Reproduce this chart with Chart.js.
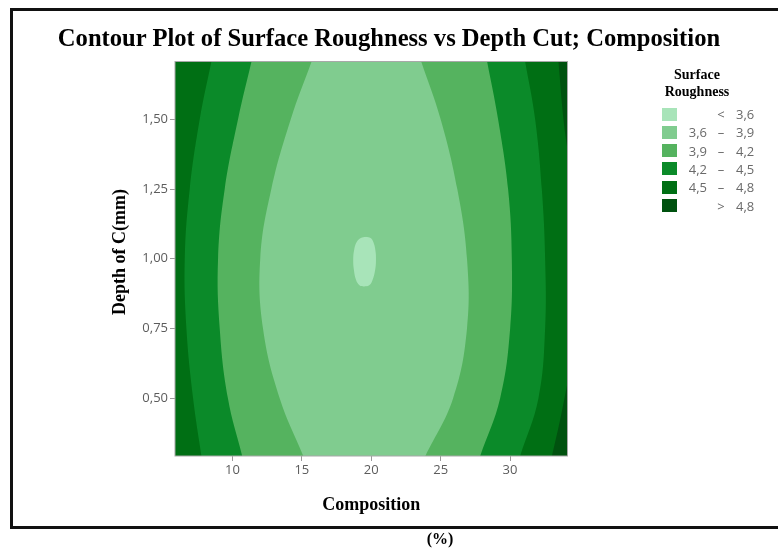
<!DOCTYPE html>
<html>
<head>
<meta charset="utf-8">
<script src="https://cdn.jsdelivr.net/npm/chart.js@4.4.1/dist/chart.umd.min.js"></script>
<style>
  html, body { margin: 0; padding: 0; background: #fff; }
  #wrap { position: relative; width: 778px; height: 549px; overflow: hidden; }
  #frame { position: absolute; left: 10px; top: 8px; width: 820px; height: 515px; border: 3px solid #111; border-right: none; }
  #chart { position: absolute; left: 0; top: 0; }
  #title { position: absolute; left: 0; top: 23px; width: 778px; text-align: center;
           font: bold 24.6px 'Liberation Serif'; line-height: 30px; color: #000; white-space: nowrap; }
  #unit { position: absolute; left: 410px; top: 530px; width: 60px; text-align: center;
          font: bold 16px 'Liberation Serif'; line-height: 18px; color: #000; }
  #legendTitle { position: absolute; left: 647px; top: 66px; width: 100px; text-align: center;
                 font: bold 14px 'Liberation Serif'; line-height: 17px; color: #000; }
  .sw { position: absolute; left: 662px; width: 15px; height: 13px; }
  .lg { position: absolute; font: 13px 'Open Sans'; line-height: 16px; color: #6a6a6a; white-space: nowrap; }
</style>
</head>
<body>
<div id="wrap">
  <div id="frame"></div>
  <canvas id="chart" width="778" height="549"></canvas>
  <div id="title">Contour Plot of Surface Roughness vs Depth Cut; Composition</div>
  <div id="legendTitle">Surface<br>Roughness</div>
  <div id="unit">(%)</div>
  <div id="legend"></div>
</div>
<script>
// axis ranges and ticks
const compMin = 5.858, compMax = 34.142;
const depthMin = 0.293, depthMax = 1.707;
const compTicks = [10, 15, 20, 25, 30];
const depthTicks = [0.50, 0.75, 1.00, 1.25, 1.50];

// contour levels and band colours (lowest band first)
const levels = [3.6, 3.9, 4.2, 4.5, 4.8];
const levelColors = ['#a8e4b9', '#80cc8f', '#55b35f', '#0b8a29', '#006f14', '#00520f'];

// contour lines: composition value on each side at each depth
const depthRows = [0.293, 0.5, 0.75, 1.0, 1.25, 1.5, 1.707];
const left39  = [15.1, 13.4, 12.2, 12.0, 12.8, 14.2, 15.7];
const right39 = [23.9, 25.9, 26.9, 26.9, 26.2, 25.0, 23.6];
const left42  = [10.7, 9.67, 9.08, 8.96, 9.44, 10.40, 11.37];
const right42 = [27.85, 29.29, 30.01, 30.13, 29.86, 29.14, 28.35];
const left45  = [7.76, 7.16, 6.68, 6.56, 6.92, 7.64, 8.48];
const right45 = [30.73, 32.05, 32.53, 32.53, 32.29, 31.81, 31.09];

// small island below 3.6
const depth36 = [0.900, 0.905, 0.925, 0.96, 0.995, 1.03, 1.06, 1.074, 1.079];
const left36  = [19.47, 19.15, 18.9, 18.75, 18.70, 18.76, 18.95, 19.25, 19.62];
const right36 = [19.47, 19.85, 20.1, 20.28, 20.34, 20.3, 20.15, 19.95, 19.62];

// 4.8 line in the right corners
const depth48Top = [1.39, 1.5, 1.707];
const right48Top = [34.142, 33.85, 33.49];
const depth48Bottom = [0.293, 0.42, 0.555];
const right48Bottom = [33.02, 33.6, 34.142];

function pts(xs, ys) {
    return ys.map((y, i) => ({ x: xs[i], y: y }));
}

function curve(xs, ys, color, fill) {
    return {
        data: pts(xs, ys),
        backgroundColor: color,
        borderColor: 'rgba(0,0,0,0)',
        borderWidth: 0,
        pointRadius: 0,
        pointHoverRadius: 0,
        tension: 0.4,
        fill: fill
    };
}

// first dataset is drawn on top, so innermost band first
const datasets = [
    curve(left36, depth36, levelColors[0], '+1'),
    curve(right36, depth36, levelColors[0], false),
    curve(left39, depthRows, levelColors[1], '+1'),
    curve(right39, depthRows, levelColors[1], false),
    curve(left42, depthRows, levelColors[2], '+1'),
    curve(right42, depthRows, levelColors[2], false),
    curve(left45, depthRows, levelColors[3], '+1'),
    curve(right45, depthRows, levelColors[3], false),
    curve(right48Top, depth48Top, levelColors[5], { value: compMax + 1 }),
    curve(right48Bottom, depth48Bottom, levelColors[5], { value: compMax + 1 })
];

// background band (4.5 - 4.8) and plot frame
const areaPlugin = {
    id: 'areaPlugin',
    beforeDatasetsDraw(chart) {
        const a = chart.chartArea, ctx = chart.ctx;
        ctx.save();
        ctx.fillStyle = levelColors[4];
        ctx.fillRect(a.left, a.top, a.right - a.left, a.bottom - a.top);
        ctx.restore();
    },
    afterDatasetsDraw(chart) {
        const a = chart.chartArea, ctx = chart.ctx;
        ctx.save();
        ctx.strokeStyle = '#a8a8a8';
        ctx.lineWidth = 1;
        ctx.strokeRect(a.left, a.top, a.right - a.left, a.bottom - a.top);
        ctx.restore();
    }
};

const tickFont = { family: 'Open Sans', size: 13 };
const titleFont = { family: 'Liberation Serif', size: 18, weight: 'bold' };

new Chart(document.getElementById('chart'), {
    type: 'line',
    data: { datasets: datasets },
    options: {
        responsive: false,
        animation: false,
        indexAxis: 'y',
        layout: { padding: { left: 100, right: 210.5, top: 61.5, bottom: 31 } },
        plugins: {
            legend: { display: false },
            tooltip: { enabled: false },
            title: { display: false }
        },
        scales: {
            x: {
                type: 'linear',
                position: 'bottom',
                min: compMin,
                max: compMax,
                afterBuildTicks: s => { s.ticks = compTicks.map(v => ({ value: v })); },
                afterFit: s => { s.height = 62; },
                ticks: { font: tickFont, color: '#5c5c5c', padding: 1, callback: v => String(v) },
                grid: { drawOnChartArea: false, drawTicks: true, tickLength: 5, color: '#9a9a9a' },
                border: { display: false },
                title: { display: true, text: 'Composition', font: titleFont, color: '#000', padding: { top: 0, bottom: 2.2 } }
            },
            y: {
                type: 'linear',
                position: 'left',
                min: depthMin,
                max: depthMax,
                reverse: false,
                afterBuildTicks: s => { s.ticks = depthTicks.map(v => ({ value: v })); },
                afterFit: s => { s.width = 75; },
                ticks: { font: tickFont, color: '#5c5c5c', padding: 2, callback: v => v.toFixed(2).replace('.', ',') },
                grid: { drawOnChartArea: false, drawTicks: true, tickLength: 5, color: '#9a9a9a' },
                border: { display: false },
                title: { display: true, text: '   Depth of C(mm)', font: titleFont, color: '#000', padding: { top: 9.2, bottom: 0 } }
            }
        }
    },
    plugins: [areaPlugin]
});

// legend: swatches and level ranges
function fmt(v) { return v.toFixed(1).replace('.', ','); }
const legendEl = document.getElementById('legend');
const lastBand = levelColors.length - 1;
levelColors.forEach((c, i) => {
    const cy = 114 + i * 18.3;
    const sw = document.createElement('div');
    sw.className = 'sw';
    sw.style.top = (cy - 6.5) + 'px';
    sw.style.background = c;
    legendEl.appendChild(sw);

    const lo = (i === 0 || i === lastBand) ? '' : fmt(levels[i - 1]);
    const sym = i === 0 ? '<' : (i === lastBand ? '>' : '\u2013');
    const hi = i === lastBand ? fmt(levels[levels.length - 1]) : fmt(levels[i]);

    const a = document.createElement('div');
    a.className = 'lg';
    a.style.left = '672px'; a.style.width = '35px'; a.style.textAlign = 'right';
    a.style.top = (cy - 8) + 'px';
    a.textContent = lo;
    const b = document.createElement('div');
    b.className = 'lg';
    b.style.left = '714px'; b.style.width = '14px'; b.style.textAlign = 'center';
    b.style.top = (cy - 8) + 'px';
    b.textContent = sym;
    const d = document.createElement('div');
    d.className = 'lg';
    d.style.left = '736px';
    d.style.top = (cy - 8) + 'px';
    d.textContent = hi;
    legendEl.appendChild(a); legendEl.appendChild(b); legendEl.appendChild(d);
});
</script>
</body>
</html>
